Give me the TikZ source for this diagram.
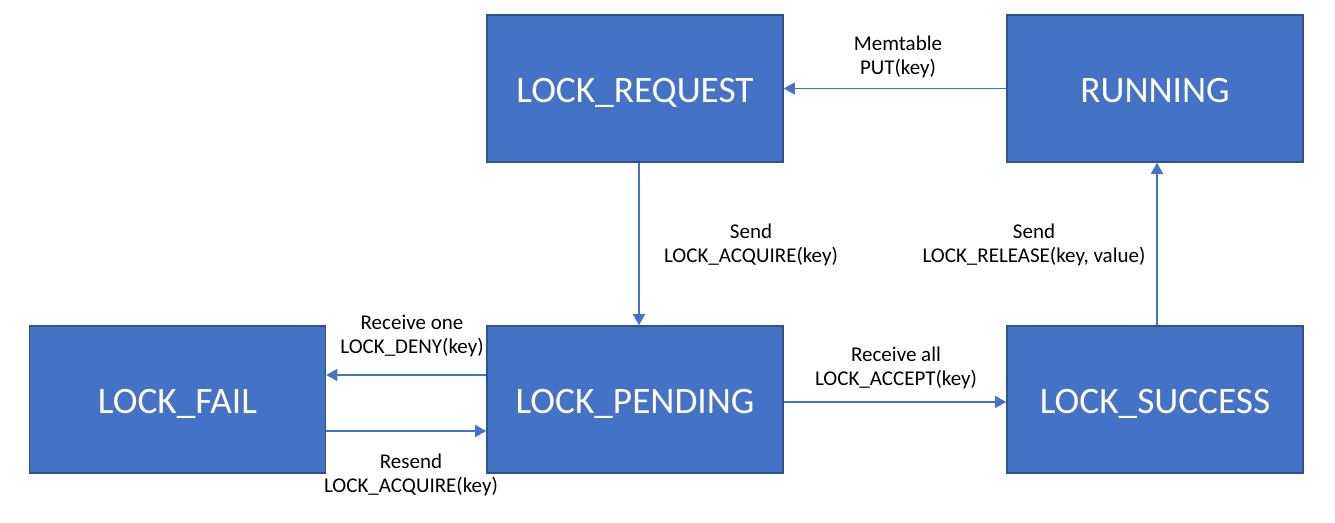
\documentclass[tikz,border=0pt]{standalone}
\usepackage{fontspec}
\setmainfont{Carlito}
\usetikzlibrary{arrows.meta,calc}
\definecolor{boxfill}{HTML}{4472C4}
\definecolor{boxline}{HTML}{2F528F}
\definecolor{arrcol}{HTML}{4472C4}
\begin{document}
\begin{tikzpicture}[x=1pt,y=1pt,
  state/.style={rectangle,fill=boxfill,draw=boxline,line width=1.6pt,minimum width=296pt,minimum height=147pt,inner sep=0pt,text=white,text height=27.5pt,text depth=0pt,font=\fontsize{37.3}{40}\selectfont},
  arr/.style={draw=arrcol,line width=1.2pt,-{Triangle[length=11pt,width=12pt]}},
  lbl/.style={align=center,font=\fontsize{21}{24.5}\selectfont,text=black,inner sep=0pt}]
\useasboundingbox (0,0) rectangle (1335,-522);
\node[state] (req) at (635,-88.5) {LOCK\_REQUEST};
\node[state] (run) at (1155,-88.5) {RUNNING};
\node[state] (fail) at (177.5,-399.5) {LOCK\_FAIL};
\node[state] (pend) at (635,-399.5) {LOCK\_PENDING};
\node[state] (succ) at (1155,-399.5) {LOCK\_SUCCESS};
\draw[arr] (run.west) -- (req.east);
\draw[arr] ([xshift=4pt]req.south) -- ([xshift=4pt]pend.north);
\draw[arr] ([xshift=2pt]succ.north) -- ([xshift=2pt]run.south);
\draw[arr] ([yshift=24.5pt]pend.west) -- ([yshift=24.5pt]fail.east);
\draw[arr] ([yshift=-31.5pt]fail.east) -- ([yshift=-31.5pt]pend.west);
\draw[arr] ([yshift=-2.5pt]pend.east) -- ([yshift=-2.5pt]succ.west);
\node[lbl] (l1) at (898,-57) {Memtable\\PUT(key)};
\node[lbl] (l2) at (751,-245) {Send\\LOCK\_ACQUIRE(key)};
\node[lbl] (l3) at (1034,-245) {Send\\LOCK\_RELEASE(key, value)};
\node[lbl] (l4) at (412,-336) {Receive one\\LOCK\_DENY(key)};
\node[lbl] (l5) at (896,-368) {Receive all\\LOCK\_ACCEPT(key)};
\node[lbl] (l6) at (411,-475) {Resend\\LOCK\_ACQUIRE(key)};
\end{tikzpicture}
\end{document}
